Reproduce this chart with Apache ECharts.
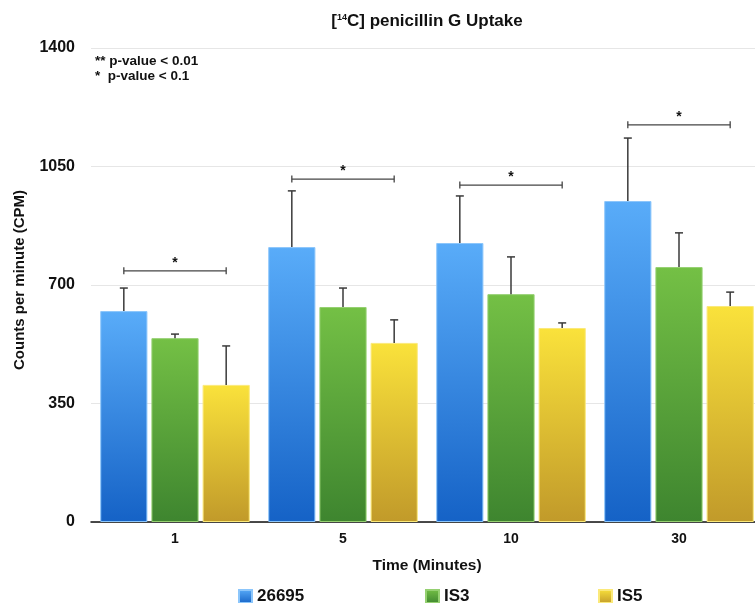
<!DOCTYPE html>
<html>
<head>
<meta charset="utf-8">
<script src="https://cdn.jsdelivr.net/npm/echarts@6/dist/echarts.min.js"></script>
<style>html,body{margin:0;padding:0;background:#fff;overflow:hidden}#c{width:775px;height:603px}</style>
</head>
<body>
<div id="c"></div>
<script>
const categories = ['1', '5', '10', '30'];
const seriesNames = ['26695', 'IS3', 'IS5'];
const values26695 = [623, 812, 824, 948];
const valuesIS3 = [543, 635, 673, 753];
const valuesIS5 = [405, 529, 573, 638];
const err26695 = [68, 166, 139, 186];
const errIS3 = [12, 56, 110, 101];
const errIS5 = [115, 68, 15, 41];
const sigLevels = [742, 1013, 995, 1173];
const sigMarks = ['*', '*', '*', '*'];
const yTicks = [0, 350, 700, 1050, 1400];

const FONT = 'Liberation Sans, Arial, Helvetica, sans-serif';
const CAT_GAP = 0.11, BAR_GAP = 0.085;
const colors = [
  ['#59acf9', '#1562c6'],
  ['#74c045', '#3e852f'],
  ['#fae23b', '#c19a2a']
];
const borders = ['#8cc6fb', '#95d071', '#fbe97a'];

function barCenter(api, catIdx, seriesIdx) {
  const band = api.size([1, 0])[0];
  const region = band * (1 - CAT_GAP);
  const w = region / (3 + 2 * BAR_GAP);
  const x0 = api.coord([catIdx, 0])[0];
  return x0 - region / 2 + w / 2 + seriesIdx * w * (1 + BAR_GAP);
}

const allVals = [values26695, valuesIS3, valuesIS5];
const allErr = [err26695, errIS3, errIS5];

const barSeries = seriesNames.map((n, k) => ({
  name: n,
  type: 'bar',
  data: allVals[k],
  barGap: (BAR_GAP * 100) + '%',
  barCategoryGap: (CAT_GAP * 100) + '%',
  itemStyle: {
    color: new echarts.graphic.LinearGradient(0, 0, 0, 1, [
      { offset: 0, color: colors[k][0] }, { offset: 1, color: colors[k][1] }
    ]),
    borderColor: borders[k],
    borderWidth: 1
  },
  z: 2
}));

const errSeries = seriesNames.map((n, k) => ({
  type: 'custom',
  name: n + '_err',
  data: categories.map((c, i) => [i, allVals[k][i], allVals[k][i] + allErr[k][i]]),
  encode: { x: 0, y: [1, 2] },
  z: 5,
  silent: true,
  renderItem: function (params, api) {
    const i = api.value(0);
    const x = barCenter(api, i, k);
    const y1 = api.coord([i, api.value(1)])[1];
    const y2 = api.coord([i, api.value(2)])[1];
    const st = { stroke: '#3a3a3a', lineWidth: 1.5 };
    return {
      type: 'group',
      children: [
        { type: 'line', shape: { x1: x, y1: y1, x2: x, y2: y2 }, style: st },
        { type: 'line', shape: { x1: x - 4, y1: y2, x2: x + 4, y2: y2 }, style: st }
      ]
    };
  }
}));

const sigSeries = {
  type: 'custom',
  name: 'sig',
  data: categories.map((c, i) => [i, sigLevels[i], sigMarks[i]]),
  encode: { x: 0, y: 1 },
  z: 6,
  silent: true,
  renderItem: function (params, api) {
    const i = api.value(0);
    const xa = barCenter(api, i, 0);
    const xb = barCenter(api, i, 2);
    const y = api.coord([i, api.value(1)])[1];
    const st = { stroke: '#444', lineWidth: 1.3 };
    return {
      type: 'group',
      children: [
        { type: 'line', shape: { x1: xa, y1: y, x2: xb, y2: y }, style: st },
        { type: 'line', shape: { x1: xa, y1: y - 3.5, x2: xa, y2: y + 3.5 }, style: st },
        { type: 'line', shape: { x1: xb, y1: y - 3.5, x2: xb, y2: y + 3.5 }, style: st },
        { type: 'text', style: { text: sigMarks[i], x: (xa + xb) / 2, y: y - 1, align: 'center', verticalAlign: 'bottom', font: 'bold 14px ' + FONT, fill: '#111' } }
      ]
    };
  }
};

const legendLefts = [233, 420, 593];
const legends = seriesNames.map((n, k) => ({
  data: [n],
  top: 583, left: legendLefts[k],
  icon: 'rect', itemWidth: 13, itemHeight: 13, itemGap: 0,
  textStyle: { fontSize: 17, fontWeight: 'bold', color: '#111', fontFamily: FONT }
}));

const chart = echarts.init(document.getElementById('c'), null, { renderer: 'canvas' });
chart.setOption({
  animation: false,
  backgroundColor: '#fff',
  textStyle: { fontFamily: FONT },
  title: {
    text: '[{sup|14}C] penicillin G Uptake',
    left: 422, top: 8, textAlign: 'center',
    textStyle: {
      fontSize: 17, fontWeight: 'bold', color: '#111', fontFamily: FONT,
      rich: { sup: { fontSize: 9, fontWeight: 'bold', verticalAlign: 'top', padding: [0, 0, 7, 0], color: '#111' } }
    }
  },
  graphic: [
    { type: 'text', left: 95, top: 54, style: { text: '** p-value < 0.01', font: 'bold 13.5px ' + FONT, fill: '#111' } },
    { type: 'text', left: 95, top: 69, style: { text: '*  p-value < 0.1', font: 'bold 13.5px ' + FONT, fill: '#111' } }
  ],
  legend: legends,
  grid: { left: 91, top: 48, width: 672, bottom: 81, containLabel: false },
  xAxis: {
    type: 'category', data: categories,
    name: 'Time (Minutes)', nameLocation: 'middle', nameGap: 36,
    nameTextStyle: { fontSize: 15.5, fontWeight: 'bold', color: '#111' },
    axisLine: { lineStyle: { color: '#111', width: 1.5 } },
    axisTick: { show: false },
    axisLabel: { fontSize: 14, fontWeight: 'bold', color: '#111', margin: 10 }
  },
  yAxis: {
    type: 'value', min: yTicks[0], max: yTicks[yTicks.length - 1], interval: yTicks[1] - yTicks[0],
    name: 'Counts per minute (CPM)', nameLocation: 'middle', nameGap: 64,
    nameTextStyle: { fontSize: 15, fontWeight: 'bold', color: '#111', padding: [0, 0, 0, 10] },
    axisLine: { show: false }, axisTick: { show: false },
    axisLabel: { fontSize: 16, fontWeight: 'bold', color: '#111', margin: 16, formatter: v => String(v) },
    splitLine: { lineStyle: { color: '#e6e6e6', width: 1 } }
  },
  series: [...barSeries, ...errSeries, sigSeries]
});
</script>
</body>
</html>
